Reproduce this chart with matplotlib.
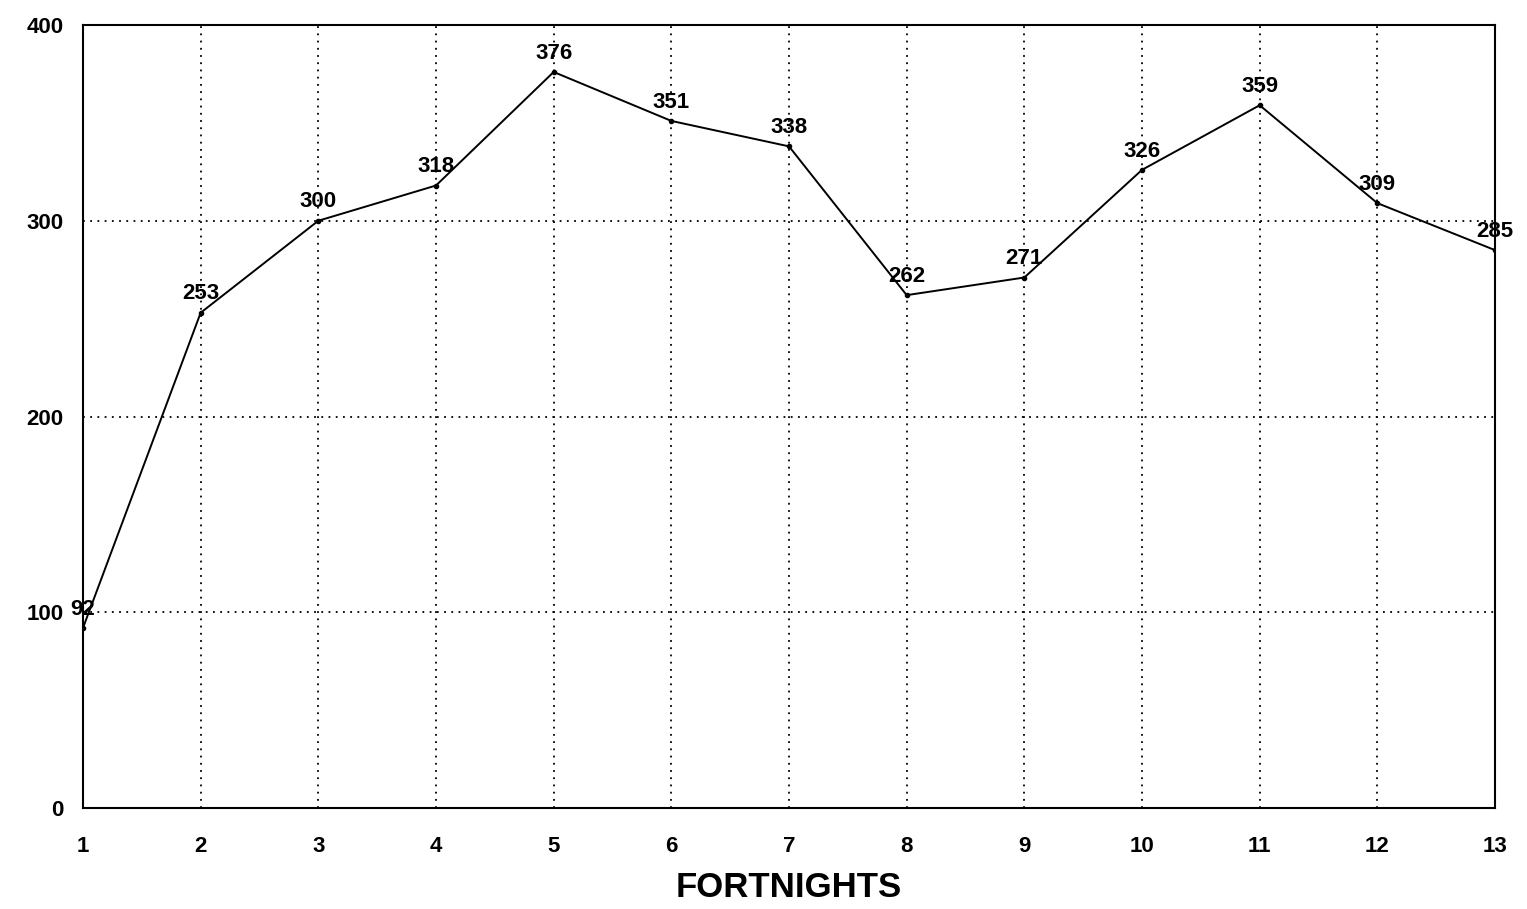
import matplotlib.pyplot as plt

fortnights = list(range(1, 14))
values = [92, 253, 300, 318, 376, 351, 338, 262, 271, 326, 359, 309, 285]
yticks = [0, 100, 200, 300, 400]

fig = plt.figure(figsize=(15.27, 9.09), dpi=100)
ax = fig.add_axes([83 / 1527, 101 / 909, 1412 / 1527, 783 / 909])

ax.plot(fortnights, values, color='black', linewidth=1.4, marker='o', markersize=3)

for x, v in zip(fortnights, values):
    ax.annotate(str(v), (x, v), xytext=(0, 6), textcoords='offset points',
                ha='center', va='bottom', fontsize=16, fontweight='bold', family='Liberation Sans')

ax.set_xlim(1, 13)
ax.set_ylim(0, 400)
ax.set_xticks(fortnights)
ax.set_yticks(yticks)
ax.tick_params(length=0, labelsize=16)
ax.tick_params(axis='x', pad=20)
ax.tick_params(axis='y', pad=14)
for lab in ax.get_xticklabels() + ax.get_yticklabels():
    lab.set_fontweight('bold')
    lab.set_family('Liberation Sans')

ax.grid(True, linestyle=(0, (1, 3)), color='black', linewidth=1.3)
for s in ax.spines.values():
    s.set_linewidth(1.5)

ax.set_xlabel("FORTNIGHTS", fontsize=25, fontweight='bold', family='Liberation Sans', labelpad=10)

fig.savefig("out.png", dpi=100)
